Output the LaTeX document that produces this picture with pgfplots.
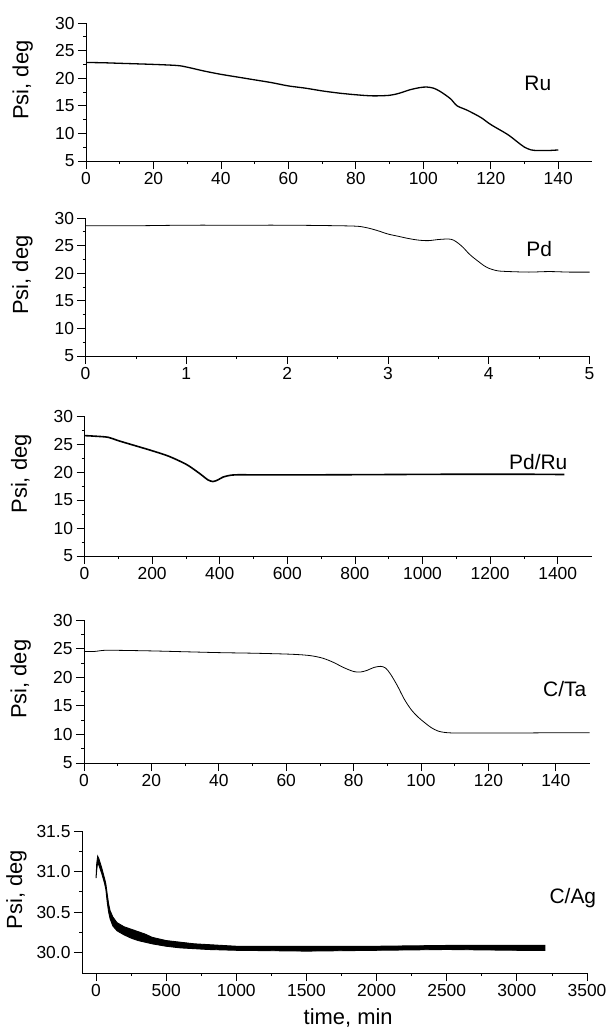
\documentclass[border=0pt]{standalone}
\usepackage{fontspec}
\setmainfont{Liberation Sans}
\usepackage{pgfplots}
\pgfplotsset{compat=1.18}
\newcommand{\fs}{\fontsize{17.5}{21}\selectfont}
\newcommand{\fl}{\fontsize{22}{26}\selectfont}
\newcommand{\fn}{\fontsize{21}{25}\selectfont}
\pgfplotsset{
  panel/.style={
    scale only axis, anchor=north west,
    axis lines=left, axis line style={-, line width=0.9bp},
    tick align=outside, tick style={black, line width=0.8bp},
    major tick length=8bp, minor tick length=3bp,
    minor x tick num=1, minor y tick num=1,
    xtick pos=bottom, ytick pos=left,
    font=\fs, tick label style={font=\fs},
    label style={font=\fl},
    /pgf/number format/assume math mode=true,
    /pgf/number format/1000 sep={},
    ylabel={Psi, deg},
    ylabel style={at={(axis description cs:-0.125,0.586)}, anchor=center},
    clip=false,
  },
}
\begin{document}
\begin{tikzpicture}[x=1bp,y=1bp]
\useasboundingbox (0,0) rectangle (612,-1032);
% Panel 1: Ru
\begin{axis}[panel, at={(86bp,-23bp)}, width=506bp, height=138bp,
  xmin=0, xmax=150, xtick={0,20,...,140},
  ymin=5, ymax=30, ytick={5,10,...,30}]
\addplot[black, line width=1.3bp, smooth] coordinates {
(0,22.85)(5,22.8)(10,22.7)(20,22.5)(27,22.3)(30,22.0)(35,21.3)(40,20.7)(45,20.2)(50,19.7)(55,19.2)(60,18.6)(65,18.2)(70,17.7)(75,17.3)(80,17.0)(85,16.8)(90,16.9)(93,17.3)(96,17.9)(99,18.3)(101,18.4)(103,18.2)(105,17.6)(108,16.3)(110,15.0)(113,14.2)(117,12.9)(120,11.6)(125,9.8)(128,8.4)(130,7.5)(132,7.0)(134,6.9)(137,6.9)(140,7.0)};
\node[font=\fn] at (rel axis cs:0.893,0.56) {Ru};
\end{axis}
% Panel 2: Pd
\begin{axis}[panel, at={(85.5bp,-218bp)}, width=504bp, height=138bp,
  xmin=0, xmax=5, xtick={0,1,...,5},
  ymin=5, ymax=30, ytick={5,10,...,30}]
\addplot[black, line width=0.8bp, smooth] coordinates {
(0,28.6)(0.5,28.6)(1,28.7)(1.5,28.7)(2,28.7)(2.5,28.6)(2.7,28.5)(2.8,28.2)(2.9,27.7)(3.0,27.1)(3.1,26.7)(3.2,26.3)(3.3,26.0)(3.4,25.9)(3.5,26.1)(3.6,26.2)(3.65,26.0)(3.7,25.4)(3.75,24.6)(3.8,23.6)(3.85,22.8)(3.9,22.1)(3.95,21.4)(4.0,20.9)(4.05,20.6)(4.1,20.4)(4.2,20.3)(4.4,20.2)(4.6,20.3)(4.8,20.2)(5.0,20.2)};
\node[font=\fn] at (rel axis cs:0.900,0.775) {Pd};
\end{axis}
% Panel 3: Pd/Ru
\begin{axis}[panel, at={(84.5bp,-416bp)}, width=507bp, height=140bp,
  xmin=0, xmax=1500, xtick={0,200,...,1400},
  ymin=5, ymax=30, ytick={5,10,...,30}]
\addplot[black, line width=1.6bp, smooth] coordinates {
(0,26.5)(30,26.4)(70,26.2)(100,25.6)(150,24.7)(200,23.8)(250,22.8)(300,21.4)(330,20.2)(350,19.3)(365,18.6)(380,18.3)(395,18.6)(410,19.1)(430,19.4)(450,19.5)(500,19.5)(700,19.5)(900,19.55)(1100,19.6)(1300,19.6)(1420,19.55)};
\node[font=\fn, anchor=base] at (rel axis cs:0.895,0.62) {Pd/Ru};
\end{axis}
% Panel 4: C/Ta
\begin{axis}[panel, at={(84bp,-620bp)}, width=505.5bp, height=143bp,
  xmin=0, xmax=150, xtick={0,20,...,140},
  ymin=5, ymax=30, ytick={5,10,...,30}]
\addplot[black, line width=0.8bp, smooth] coordinates {
(0,24.5)(3,24.5)(6,24.7)(10,24.7)(20,24.6)(30,24.45)(40,24.3)(50,24.2)(60,24.05)(65,23.9)(68,23.7)(71,23.3)(74,22.6)(77,21.7)(80,21.0)(82,20.9)(84,21.2)(86,21.7)(88,21.9)(89.5,21.6)(91,20.5)(93,18.5)(95,16.2)(97,14.4)(99,13.1)(101,12.1)(103,11.2)(105,10.6)(107,10.35)(110,10.25)(120,10.25)(130,10.25)(140,10.3)(150,10.3)};
\node[font=\fn] at (rel axis cs:0.951,0.52) {C/Ta};
\end{axis}
% Panel 5: C/Ag
\begin{axis}[panel, at={(82bp,-831bp)}, width=505bp, height=142bp,
  xmin=-100, xmax=3500, xtick={0,500,...,3500},
  ymin=29.75, ymax=31.5, ytick={30,30.5,31,31.5},
  yticklabel style={/pgf/number format/.cd, fixed, fixed zerofill, precision=1},
  ylabel style={at={(axis description cs:-0.13,0.586)}, anchor=center},
  xlabel={time, min},
  xlabel style={at={(axis description cs:0.527,-0.317)}, anchor=center}]
\addplot[black, fill=black, line width=0.9bp] coordinates {
(0,30.92)(5,31.10)(12,31.19)(20,31.16)(40,31.05)(60,30.92)(70,30.85)(80,30.72)(90,30.6)(100,30.52)(120,30.44)(150,30.37)(200,30.32)(250,30.29)(300,30.26)(350,30.23)(400,30.19)(500,30.15)(600,30.13)(700,30.11)(800,30.10)(1000,30.08)(1500,30.08)(2000,30.08)(2500,30.09)(3000,30.09)(3200,30.09)
(3200,30.03)(3000,30.03)(2500,30.04)(2000,30.03)(1500,30.02)(1000,30.03)(800,30.04)(700,30.05)(600,30.06)(500,30.08)(400,30.11)(350,30.13)(300,30.15)(250,30.18)(200,30.22)(150,30.27)(120,30.33)(100,30.42)(90,30.5)(80,30.62)(70,30.78)(60,30.86)(40,30.98)(20,31.08)(12,31.12)(5,31.02)(0,30.92)} -- cycle;
\node[font=\fn] at (rel axis cs:0.972,0.53) {C/Ag};
\end{axis}
\end{tikzpicture}
\end{document}
